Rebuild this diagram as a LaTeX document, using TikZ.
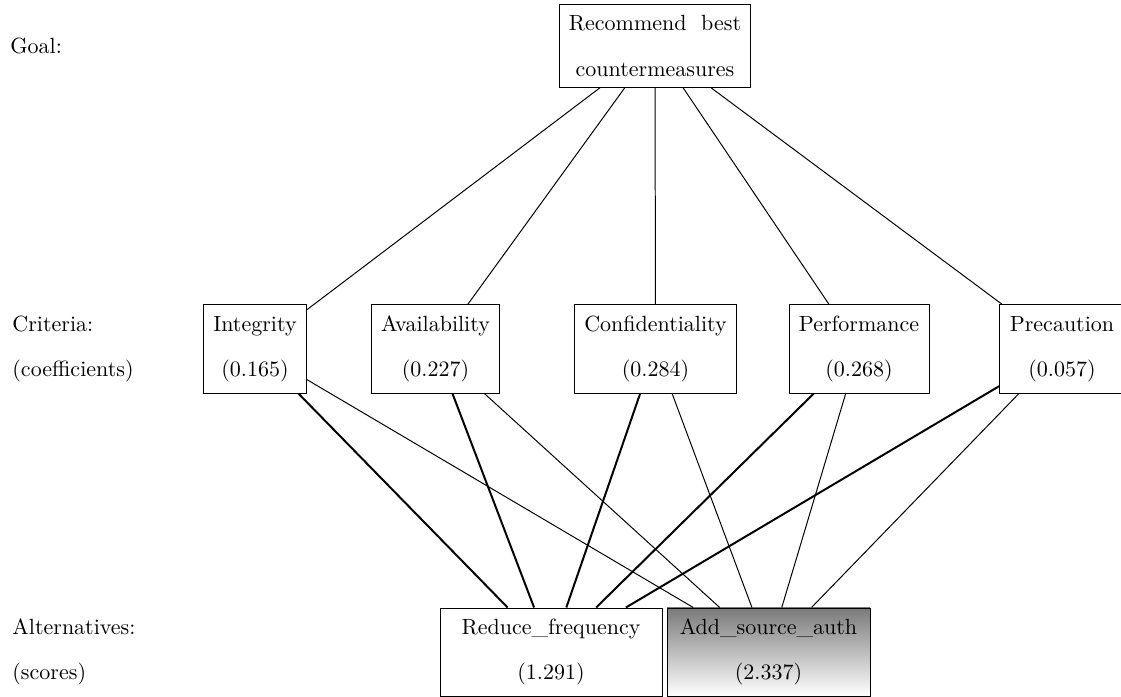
\documentclass[tikz,border=0pt]{standalone}
\begin{document}
\begin{tikzpicture}[x=0.4545pt,y=-0.4545pt,
  box/.style={draw, line width=0.45pt, align=center, inner xsep=4.5pt,
              minimum height=40pt},
  lbl/.style={anchor=west, align=left, inner sep=0pt},
  link/.style={line width=0.45pt},
  heavy/.style={line width=0.9pt}]
\useasboundingbox (0,0) rectangle (1121,697);

% level captions
\node[lbl] (lgoal) at (10,46) {Goal:};
\node[lbl] (lcrit) at (12,349) {Criteria:\\[8.5pt](coefficients)};
\node[lbl] (lalt)  at (12,652) {Alternatives:\\[8.5pt](scores)};

% goal
\node[box, minimum height=37.3pt, inner ysep=2pt] (goal) at (655,46)
  {Recommend\ \ best\\[8.5pt]countermeasures};

% criteria with their coefficients
\node[box] (integ) at (255,349)   {Integrity\\[8.5pt](0.165)};
\node[box] (avail) at (435.5,349) {Availability\\[8.5pt](0.227)};
\node[box] (conf)  at (655.5,349) {Confidentiality\\[8.5pt](0.284)};
\node[box] (perf)  at (859,349)   {Performance\\[8.5pt](0.268)};
\node[box] (prec)  at (1062,349)  {Precaution\\[8.5pt](0.057)};

% alternatives with their scores
\node[box, minimum width=222*0.4545pt] (reduce) at (551,652) {Reduce\_frequency\\[8.5pt](1.291)};
\node[box, minimum width=203*0.4545pt, top color=black!52, bottom color=white]
  (addsrc) at (768.5,652) {Add\_source\_auth\\[8.5pt](2.337)};

% goal to criteria
\foreach \c in {integ,avail,conf,perf,prec}
  \draw[link] (goal) -- (\c);

% criteria to alternatives
\foreach \c in {integ,avail,conf,perf,prec}{
  \draw[heavy] (\c) -- (reduce);
  \draw[link] (\c) -- (addsrc);
}
\end{tikzpicture}
\end{document}
